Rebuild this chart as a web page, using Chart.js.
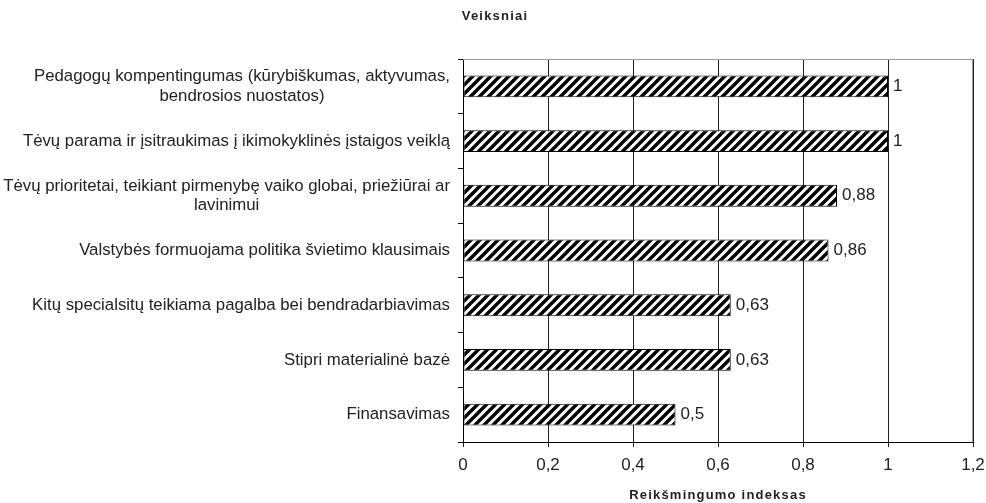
<!DOCTYPE html>
<html lang="lt">
<head>
    <meta charset="UTF-8">
    <title>Veiksniai</title>
    <script src="https://cdn.jsdelivr.net/npm/chart.js"></script>
    <style>
        body {
            margin: 0;
            background: #fff;
        }
        .wrap {
            width: 986px;
            height: 503px;
            position: relative;
        }
    </style>
</head>
<body>
    <div class="wrap">
        <canvas id="factorsChart"></canvas>
    </div>

    <script>
        // data
        const factors = [
            ['Pedagogų kompentingumas (kūrybiškumas, aktyvumas,', 'bendrosios nuostatos)'],
            'Tėvų parama ir įsitraukimas į ikimokyklinės įstaigos veiklą',
            ['Tėvų prioritetai, teikiant pirmenybę vaiko globai, priežiūrai ar', 'lavinimui'],
            'Valstybės formuojama politika švietimo klausimais',
            'Kitų specialsitų teikiama pagalba bei bendradarbiavimas',
            'Stipri materialinė bazė',
            'Finansavimas'
        ];
        const importance = [1, 1, 0.88, 0.86, 0.63, 0.63, 0.5];
        const xTicks = [0, 0.2, 0.4, 0.6, 0.8, 1, 1.2];

        const yTitle = 'Veiksniai';
        const xTitle = 'Reikšmingumo indeksas';
        const FONT = "'Liberation Sans', Arial, sans-serif";

        const fmt = v => String(Math.round(v * 100) / 100).replace('.', ',');

        // diagonal hatch like the old office fill
        function hatch() {
            const p = 9;
            const c = document.createElement('canvas');
            c.width = p; c.height = p;
            const g = c.getContext('2d');
            g.fillStyle = '#fff';
            g.fillRect(0, 0, p, p);
            g.strokeStyle = '#000';
            g.lineWidth = 3.4;
            g.beginPath();
            g.moveTo(-p, 2 * p); g.lineTo(2 * p, -p);
            g.moveTo(-2 * p, 2 * p); g.lineTo(p, -p);
            g.moveTo(0, 2 * p); g.lineTo(3 * p, -p);
            g.stroke();
            return g.createPattern(c, 'repeat');
        }

        const extras = {
            id: 'extras',
            afterDraw(chart) {
                const ctx = chart.ctx;
                const a = chart.chartArea;
                const yScale = chart.scales.y;
                ctx.save();

                // grey frame on top and right
                ctx.strokeStyle = '#9a9a9a';
                ctx.lineWidth = 1;
                ctx.beginPath();
                ctx.moveTo(a.left, a.top + 0.5);
                ctx.lineTo(a.right - 0.5, a.top + 0.5);
                ctx.lineTo(a.right - 0.5, a.bottom);
                ctx.stroke();

                // category labels, lines centred within each label block
                ctx.fillStyle = '#222';
                ctx.font = '16.8px ' + FONT;
                ctx.textAlign = 'center';
                ctx.textBaseline = 'middle';
                const rightEdge = a.left - 13;
                const lh = 19.5;
                factors.forEach((lab, i) => {
                    const lines = Array.isArray(lab) ? lab : [lab];
                    const w = Math.max(...lines.map(l => ctx.measureText(l).width));
                    const cx = rightEdge - w / 2;
                    const cy = yScale.getPixelForValue(i);
                    lines.forEach((l, k) => {
                        ctx.fillText(l, cx, cy + (k - (lines.length - 1) / 2) * lh);
                    });
                });

                // value labels
                ctx.font = '17px ' + FONT;
                ctx.textAlign = 'left';
                const meta = chart.getDatasetMeta(0);
                meta.data.forEach((bar, i) => {
                    ctx.fillText(fmt(importance[i]), bar.x + 5, bar.y);
                });

                // axis titles
                ctx.font = 'bold 13px ' + FONT;
                ctx.letterSpacing = '1.2px';
                ctx.textAlign = 'center';
                ctx.fillText(yTitle, a.left + 32, 16);
                ctx.fillText(xTitle, (a.left + a.right) / 2, 495);
                ctx.restore();
            }
        };

        const ctx = document.getElementById('factorsChart').getContext('2d');
        new Chart(ctx, {
            type: 'bar',
            data: {
                labels: factors,
                datasets: [{
                    data: importance,
                    backgroundColor: hatch(),
                    borderColor: '#000',
                    borderWidth: 1,
                    borderSkipped: false,
                    barPercentage: 0.4,
                    categoryPercentage: 1
                }]
            },
            options: {
                indexAxis: 'y',
                responsive: true,
                maintainAspectRatio: false,
                animation: false,
                layout: { padding: { top: 59, right: 13, left: 0, bottom: 0 } },
                plugins: {
                    legend: { display: false },
                    tooltip: { enabled: false }
                },
                scales: {
                    x: {
                        min: 0,
                        max: 1.2,
                        afterBuildTicks: s => { s.ticks = xTicks.map(v => ({ value: v })); },
                        afterFit: s => {
                            s.height = 61;
                            s.paddingLeft = 0;
                            s.paddingRight = 0;
                        },
                        ticks: {
                            color: '#222',
                            font: { family: FONT, size: 17 },
                            padding: 8,
                            maxRotation: 0,
                            callback: v => fmt(v)
                        },
                        grid: { color: '#222', lineWidth: 1, tickLength: 5 },
                        border: { color: '#000', width: 1 }
                    },
                    y: {
                        afterFit: s => { s.width = 463; },
                        ticks: { display: false },
                        grid: {
                            offset: true,
                            drawOnChartArea: false,
                            color: '#000',
                            tickLength: 5
                        },
                        border: { color: '#000', width: 1 }
                    }
                }
            },
            plugins: [extras]
        });
    </script>
</body>
</html>
